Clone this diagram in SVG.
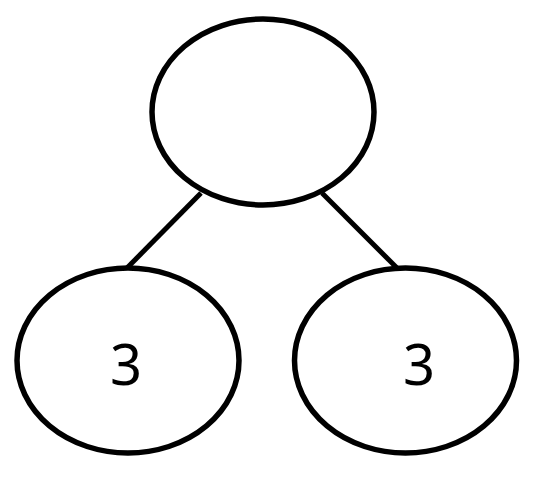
<svg xmlns="http://www.w3.org/2000/svg" width="547" height="488" viewBox="0 0 547 488">
<style>
.n{fill:#fff;stroke:#000;stroke-width:5.5}
.e{stroke:#000;stroke-width:5;fill:none}
.t{font-family:"Noto Sans","Open Sans",sans-serif;font-size:56px;fill:#000;text-anchor:middle}
</style>
<rect width="547" height="488" fill="#fff"/>
<g id="edges">
<line class="e" x1="201" y1="193" x2="127" y2="268"/>
<line class="e" x1="322" y1="193" x2="397" y2="268"/>
</g>
<g id="root"><ellipse class="n" cx="263" cy="112" rx="111" ry="93"/></g>
<g id="left"><ellipse class="n" cx="128" cy="360.5" rx="111" ry="92.5"/><text class="t" x="126" y="385">3</text></g>
<g id="right"><ellipse class="n" cx="405.5" cy="360.5" rx="111" ry="92.5"/><text class="t" x="419" y="385">3</text></g>
</svg>
